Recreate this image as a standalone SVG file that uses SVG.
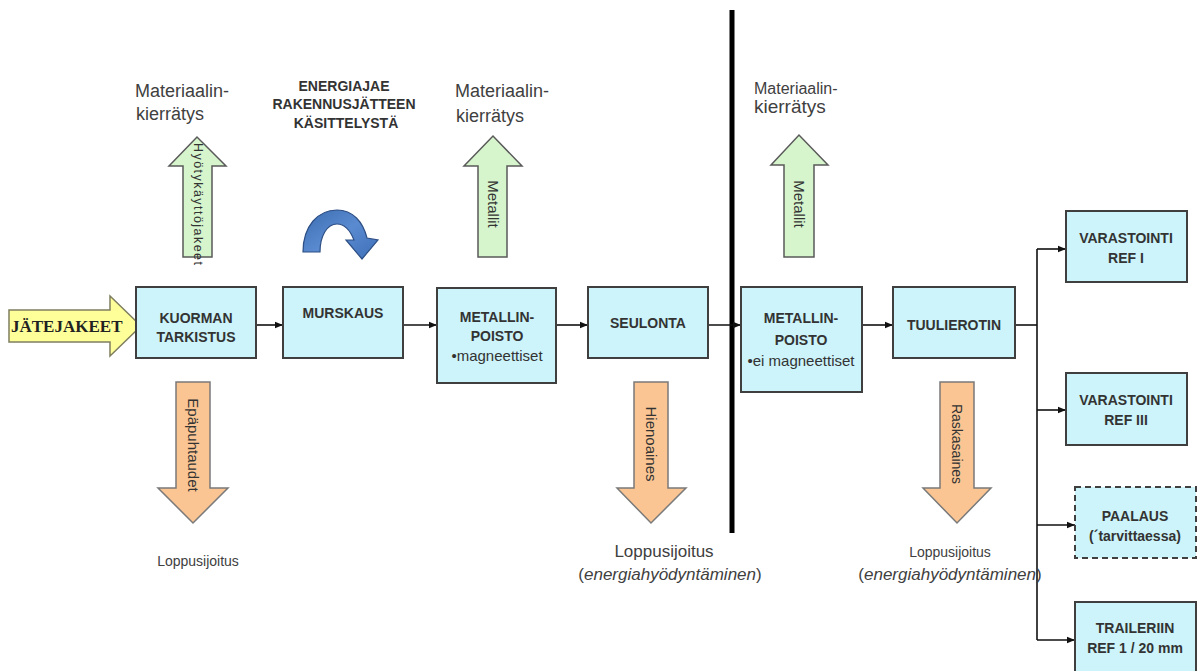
<svg xmlns="http://www.w3.org/2000/svg" width="1201" height="671" viewBox="0 0 1201 671">
<defs>
<style>
.box{fill:#ccf4fa;stroke:#3f3f3f;stroke-width:2}
.dash{stroke-dasharray:6 4}
.bt{font-family:"Liberation Sans",Arial,sans-serif;font-weight:bold;font-size:14px;fill:#333;text-anchor:middle}
.rt{font-family:"Liberation Sans",Arial,sans-serif;font-size:15px;fill:#333;text-anchor:middle}
.lbl{font-family:"Liberation Sans",Arial,sans-serif;fill:#404040}
.green{fill:#d6f5cc;stroke:#5a5a5a;stroke-width:1.5}
.orange{fill:#fac592;stroke:#7a7a7a;stroke-width:1.5}
.vt{font-family:"Liberation Sans",Arial,sans-serif;fill:#333;text-anchor:middle}
.con{fill:none;stroke:#111;stroke-width:1.6}
</style>
<marker id="ah" viewBox="0 0 10 10" refX="10" refY="5" markerWidth="8" markerHeight="8" markerUnits="userSpaceOnUse" orient="auto">
<path d="M0,1 L10,5 L0,9 Z" fill="#111"/>
</marker>
<linearGradient id="blueg" x1="0" y1="0" x2="1" y2="1">
<stop offset="0" stop-color="#3d6db0"/>
<stop offset="0.5" stop-color="#5a8ad0"/>
<stop offset="1" stop-color="#3e70b8"/>
</linearGradient>
</defs>
<rect width="1201" height="671" fill="#fff"/>

<!-- divider line -->
<line x1="732" y1="10" x2="732" y2="533" stroke="#000" stroke-width="5"/>

<g id="connectors">
<path class="con" d="M256,325 H283" marker-end="url(#ah)"/>
<path class="con" d="M403,325 H437" marker-end="url(#ah)"/>
<path class="con" d="M556,325 H588" marker-end="url(#ah)"/>
<path class="con" d="M708,325 H741" marker-end="url(#ah)"/>
<path class="con" d="M862,325 H893" marker-end="url(#ah)"/>
<path class="con" d="M1015,325 H1037"/>
<path class="con" d="M1037,249 V640"/>
<path class="con" d="M1037,249 H1066" marker-end="url(#ah)"/>
<path class="con" d="M1037,410 H1066" marker-end="url(#ah)"/>
<path class="con" d="M1037,525 H1075" marker-end="url(#ah)"/>
<path class="con" d="M1037,640 H1075" marker-end="url(#ah)"/>
</g>

<g id="jatejakeet">
<path d="M9,310 L110,310 L110,296 L141,326 L110,356 L110,342 L9,342 Z" fill="#ffff99" stroke="#7f7f60" stroke-width="1.5"/>
<text x="11" y="332" font-family="'Liberation Serif','Times New Roman',serif" font-weight="bold" font-size="17" fill="#222">JÄTEJAKEET</text>
</g>

<g id="kuorman">
<rect class="box" x="136" y="287" width="120" height="71"/>
<text class="bt" x="196" y="323">KUORMAN</text>
<text class="bt" x="196" y="342">TARKISTUS</text>
</g>

<g id="murskaus">
<rect class="box" x="283" y="287" width="120" height="71"/>
<text class="bt" x="343" y="318">MURSKAUS</text>
</g>

<g id="metallinpoisto1">
<rect class="box" x="437" y="288" width="119" height="95"/>
<text class="bt" x="497" y="322">METALLIN-</text>
<text class="bt" x="497" y="341">POISTO</text>
<text class="rt" x="497" y="361">•magneettiset</text>
</g>

<g id="seulonta">
<rect class="box" x="588" y="287" width="120" height="71"/>
<text class="bt" x="648" y="328">SEULONTA</text>
</g>

<g id="metallinpoisto2">
<rect class="box" x="741" y="287" width="121" height="105"/>
<text class="bt" x="801" y="323">METALLIN-</text>
<text class="bt" x="801" y="345">POISTO</text>
<text class="rt" x="801" y="366">•ei magneettiset</text>
</g>

<g id="tuulierotin">
<rect class="box" x="893" y="287" width="122" height="71"/>
<text class="bt" x="954" y="330">TUULIEROTIN</text>
</g>

<g id="varastointi1">
<rect class="box" x="1066" y="211" width="121" height="71"/>
<text class="bt" x="1126" y="243">VARASTOINTI</text>
<text class="bt" x="1126" y="263">REF I</text>
</g>

<g id="varastointi3">
<rect class="box" x="1066" y="373" width="121" height="72"/>
<text class="bt" x="1126" y="405">VARASTOINTI</text>
<text class="bt" x="1126" y="425">REF III</text>
</g>

<g id="paalaus">
<rect class="box dash" x="1075" y="487" width="121" height="71"/>
<text class="bt" x="1135" y="521">PAALAUS</text>
<text class="bt" x="1135" y="541">(´tarvittaessa)</text>
</g>

<g id="traileriin">
<rect class="box" x="1075" y="602" width="121" height="70"/>
<text class="bt" x="1135" y="633">TRAILERIIN</text>
<text class="bt" x="1135" y="653">REF 1 / 20 mm</text>
</g>

<g id="energia">
<text class="bt" font-size="13" x="344" y="91">ENERGIAJAE</text>
<text class="bt" font-size="13" x="344" y="109">RAKENNUSJÄTTEEN</text>
<text class="bt" font-size="13" x="346" y="128">KÄSITTELYSTÄ</text>
<path d="M303,252 C303,226 318,210 337,210 C353,210 363,222 367,238 L378,240 L362,259 L346,240 L354,240 C350,230 345,224 337,224 C327,224 320,236 320,252 Z" fill="url(#blueg)" stroke="#2d4f85" stroke-width="1.2"/>
</g>

<g id="hyotykaytto">
<text class="lbl" font-size="18" x="135" y="97">Materiaalin-</text>
<text class="lbl" font-size="18" x="136" y="120">kierrätys</text>
<path class="green" d="M183,257 L183,166 L169,166 L197,137 L226,166 L212,166 L212,257 Z"/>
<text class="vt" font-size="12.5" transform="translate(198,204) rotate(90)" dy="0.35em" textLength="122" lengthAdjust="spacing">Hyötykäyttöjakeet</text>
</g>

<g id="metallit1">
<text class="lbl" font-size="18" x="455" y="97">Materiaalin-</text>
<text class="lbl" font-size="18" x="456" y="122">kierrätys</text>
<path class="green" d="M478,257 L478,166 L464,166 L493,136 L522,166 L507,166 L507,257 Z"/>
<text class="vt" font-size="15" transform="translate(493,204) rotate(90)" dy="0.35em">Metallit</text>
</g>

<g id="metallit2">
<text class="lbl" font-size="16" x="754" y="94">Materiaalin-</text>
<text class="lbl" font-size="19" x="754" y="113">kierrätys</text>
<path class="green" d="M784,257 L784,165 L771,165 L799,135 L828,165 L814,165 L814,257 Z"/>
<text class="vt" font-size="15" transform="translate(799,204) rotate(90)" dy="0.35em">Metallit</text>
</g>

<g id="epapuhtaudet">
<path class="orange" d="M176,382 L210,382 L210,488 L228,488 L193,523 L158,488 L176,488 Z"/>
<text class="vt" font-size="15" transform="translate(193,445) rotate(90)" dy="0.35em">Epäpuhtaudet</text>
<text class="lbl" font-size="14" x="198" y="566" text-anchor="middle">Loppusijoitus</text>
</g>

<g id="hienoaines">
<path class="orange" d="M634,382 L668,382 L668,488 L686,488 L651,523 L617,488 L634,488 Z"/>
<text class="vt" font-size="15" transform="translate(651,444) rotate(90)" dy="0.35em">Hienoaines</text>
<text class="lbl" font-size="17" x="664" y="557" text-anchor="middle">Loppusijoitus</text>
<text class="lbl" font-size="17" x="670" y="580" text-anchor="middle">(<tspan font-style="italic">energiahyödyntäminen</tspan>)</text>
</g>

<g id="raskasaines">
<path class="orange" d="M940,382 L974,382 L974,488 L991,488 L957,523 L923,488 L940,488 Z"/>
<text class="vt" font-size="14" transform="translate(957,444) rotate(90)" dy="0.35em">Raskasaines</text>
<text class="lbl" font-size="14" x="950" y="557" text-anchor="middle">Loppusijoitus</text>
<text class="lbl" font-size="17" x="950" y="580" text-anchor="middle">(<tspan font-style="italic">energiahyödyntäminen</tspan>)</text>
</g>
</svg>
